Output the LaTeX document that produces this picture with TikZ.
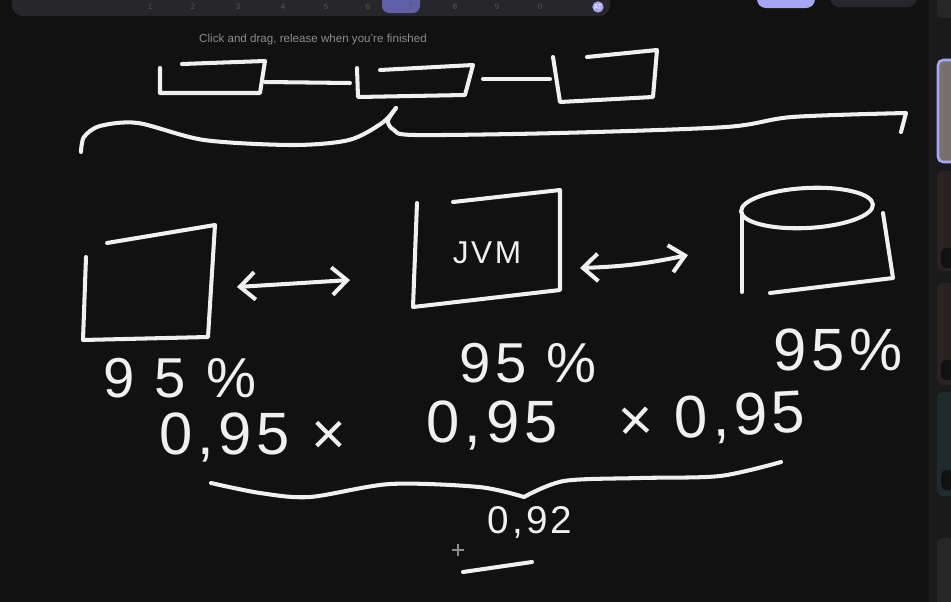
\documentclass[tikz,border=0pt]{standalone}
\usepackage{fontspec}
\setmainfont{Liberation Sans}
\newfontfamily\handfont[LetterSpace=8]{Liberation Sans}
\usetikzlibrary{arrows.meta,positioning}
\definecolor{board}{HTML}{111112}
\definecolor{chalk}{HTML}{F0F0F0}
\definecolor{bar}{HTML}{26262B}
\definecolor{hint}{HTML}{8C8C8C}
\definecolor{faint}{HTML}{55555C}
\definecolor{lilac}{HTML}{A6A5F7}
\definecolor{lilacdark}{HTML}{5F5FA8}
\definecolor{side}{HTML}{1A1A1A}
\definecolor{paneA}{HTML}{2A2222}
\definecolor{paneB}{HTML}{1F2A2A}
\definecolor{paneC}{HTML}{262626}
\definecolor{photo}{HTML}{77716C}
\tikzset{
  ink/.style={draw=chalk, line width=2.3pt, line cap=round, line join=round},
  twoway/.style={ink, {Straight Barb[length=3mm,width=5.5mm]}-{Straight Barb[length=3mm,width=5.5mm]}},
  hand/.style={text=chalk, inner sep=0pt, font=\handfont\fontsize{#1}{#1}\selectfont},
  hand/.default=32,
  pane/.style={rounded corners=3pt},
  tool/.style={text=faint, font=\fontsize{4.5}{5}\selectfont, inner sep=0pt},
}

\begin{document}
\begin{tikzpicture}[x=0.02cm, y=-0.02cm]
\useasboundingbox (0,0) rectangle (951,602);
\clip (0,0) rectangle (951,602);
\fill[board] (0,0) rectangle (951,602);

\fill[bar, rounded corners=6pt] (12,-14) rectangle (610,16);
\fill[lilacdark, rounded corners=4pt] (382,-14) rectangle (420,13);
\foreach \d/\px in {1/150,2/193,3/238,4/283,5/326,6/368,7/411,8/455,9/497,0/540}
  \node[tool] (key\d) at (\px,7) {\d};
\node[circle, fill=lilac, minimum size=16\pgflinewidth, inner sep=0pt, text=white, font=\fontsize{4}{4}\selectfont] (user) at (598,7) {AT};
\fill[lilac, rounded corners=5pt] (757,-14) rectangle (815,8);
\fill[bar, rounded corners=5pt] (830,-14) rectangle (917,7);

\fill[side] (929,0) rectangle (951,602);
\fill[paneC, pane] (937,-10) rectangle (960,18);
\fill[photo, pane] (938,60) rectangle (960,162);
\draw[lilac, line width=1.5pt, pane] (938,60) rectangle (962,162);
\fill[paneA, pane] (937,171) rectangle (960,271);
\fill[paneA, pane] (937,283) rectangle (960,385);
\fill[paneB, pane] (937,392) rectangle (960,496);
\fill[paneC, pane] (937,538) rectangle (960,610);
\foreach \py in {248,360,470}
  \fill[board, pane] (941,\py) rectangle (960,\py+20);

\node[text=hint, font=\fontsize{6.6}{8}\selectfont, inner sep=0pt] (hintmsg) at (313,39) {Click and drag, release when you're finished};

\draw[ink] (182,64) -- (265,61) -- (260,93) -- (160,93) -- (160,68);
\draw[ink] (380,70) -- (473,65) -- (465,95) -- (358,97) -- (357,68);
\draw[ink] (587,57) -- (657,50) -- (653,97) -- (560,102) -- (553,57);
\coordinate (l1a) at (265,82);
\coordinate (l1b) at (350,83);
\coordinate (l2a) at (483,79);
\coordinate (l2b) at (550,79);
\draw[ink] (l1a) -- (l1b);
\draw[ink] (l2a) -- (l2b);

\draw[ink] plot[smooth] coordinates {(81,152) (84,137) (100,126) (138,123) (204,140) (293,145) (349,140) (382,123) (396,108)};
\draw[ink] plot[smooth] coordinates {(396,108) (388,121) (394,130) (415,135) (559,133) (726,127) (792,117) (906,113)} -- (901,132);

\draw[ink] (107,243) -- (215,225) -- (208,337) -- (83,340) -- (86,257);
\draw[ink] (453,202) -- (560,190) -- (560,290) -- (413,307) -- (417,203);
\node[hand=18] (jvm) at (487,253) {JVM};
\draw[ink, rotate around={3:(807,208)}] (807,208) ellipse [x radius=66, y radius=20];
\draw[ink] (742,213) -- (742,292);
\draw[ink] (883,213) -- (893,278) -- (770,293);

\coordinate (a1) at (237,287);
\coordinate (a2) at (350,280);
\coordinate (a3) at (580,268);
\coordinate (a4) at (688,255);
\draw[twoway] (a1) -- (a2);
\draw[twoway] (a3) to[bend right=5] (a4);

\node[hand=32] (pctA) at (180,378) {9 5 \%};
\node[hand=32] (pctB) at (528,363) {95 \%};
\node[hand=34] (pctC) at (838,350) {95\%};

\node[hand=34] (prodA) at (253,437) {0,95 ×};
\node[hand=34] (prodB) at (492,425) {0,95};
\node[hand=34, rotate=3] (prodC) at (712,420) {× 0,95};

\draw[ink] plot[smooth] coordinates {(211,483) (260,493) (310,497) (390,484) (479,487) (524,497)};
\draw[ink] plot[smooth] coordinates {(524,497) (564,481) (640,478) (720,476) (781,462)};

\node[hand=22] (total) at (530,522) {0,92};
\coordinate (u1) at (463,572);
\coordinate (u2) at (532,562);
\draw[ink] (u1) -- (u2);
\draw[hint, line width=1pt] (452,550) -- (464,550) (458,544) -- (458,556);
\end{tikzpicture}
\end{document}
